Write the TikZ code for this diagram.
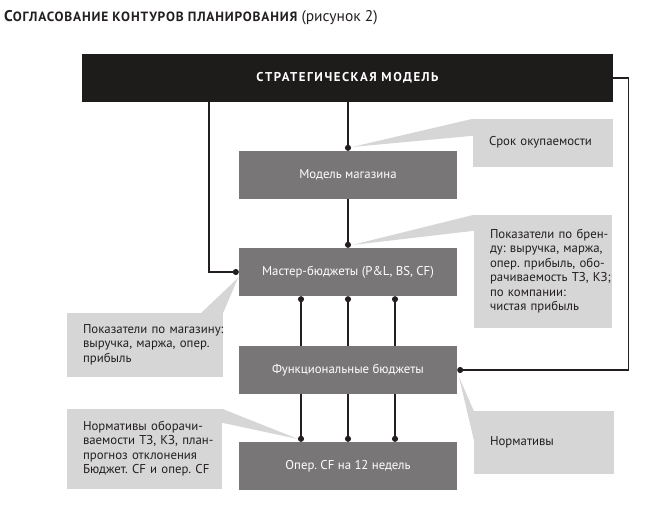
\documentclass[tikz,border=0pt]{standalone}
\usepackage{fontspec}
\setmainfont{PT Sans}
\newfontfamily\capsfont[LetterSpace=12]{PT Sans}
\newfontfamily\titlefont[LetterSpace=6]{PT Sans}
\usetikzlibrary{arrows.meta}
\frenchspacing

\definecolor{stratfill}{RGB}{30,27,27}
\definecolor{boxfill}{RGB}{120,118,118}
\definecolor{notefill}{RGB}{214,214,214}
\definecolor{ink}{RGB}{35,31,32}
\newcommand{\boxfont}{\fontsize{12.8}{14.5}\selectfont}
\newcommand{\notelines}[1]{\noindent\begin{tabular}{@{}l@{}}#1\end{tabular}}

\begin{document}
\begin{tikzpicture}[x=1pt,y=-1pt,
  block/.style={fill=boxfill,text=white,font=\boxfont,minimum width=218pt,minimum height=48pt,inner sep=0pt},
  note/.style={fill=notefill,text=ink,font=\boxfont,inner xsep=16pt,inner ysep=0pt},
  link/.style={draw=ink,line width=1.4pt},
  enddot/.style={-{Circle[length=6pt]}},
  startdot/.style={{Circle[length=6pt]}-}]
\useasboundingbox (0,0) rectangle (650,508);
\node (title) at (4,18) [anchor=west,inner sep=0pt,text=ink]
  {\fontsize{15.5}{16}\selectfont{\titlefont\bfseries С\fontsize{13.4}{14}\selectfont ОГЛАСОВАНИЕ КОНТУРОВ ПЛАНИРОВАНИЯ} (рисунок 2)};
\node (strat) at (347.5,78) [fill=stratfill,text=white,font=\boxfont\capsfont\bfseries,minimum width=531pt,minimum height=48pt] {СТРАТЕГИЧЕСКАЯ МОДЕЛЬ};
\node (model) at (348,175) [block] {Модель магазина};
\node (master) at (348,272) [block] {Мастер-бюджеты (P\&L, BS, CF)};
\node (func) at (348,370) [block] {Функциональные бюджеты};
\node (oper) at (348,466) [block] {Опер. CF на 12 недель};
% callouts
\node (srok) at (543,143) [note,text width=108pt,minimum height=48pt] {\notelines{Срок окупаемости}};
\node (brand) at (543,271.5) [note,text width=106pt,minimum height=113pt]
  {\notelines{Показатели по брен-\\ду: выручка, маржа,\\опер. прибыль, обо-\\рачиваемость ТЗ, КЗ;\\по компании:\\чистая прибыль}};
\node (shop) at (145,345) [note,text width=124pt,minimum height=64pt]
  {\notelines{Показатели по магазину:\\выручка, маржа, опер.\\прибыль}};
\node (norm) at (144.5,449) [note,text width=123pt,minimum height=80pt]
  {\notelines{Нормативы оборачи-\\ваемости ТЗ, КЗ, план-\\прогноз отклонения\\Бюджет. CF и опер. CF}};
\node (normfunc) at (544,442.5) [note,text width=108pt,minimum height=63pt] {\notelines{Нормативы}};
\fill[notefill] (352,147) -- (srok.north west) -- ([yshift=-17pt]srok.north west) -- cycle;
\fill[notefill] (352,245) -- (brand.north west) -- ([yshift=-16pt]brand.north west) -- cycle;
\fill[notefill] (238,278) -- (shop.north east) -- ([xshift=-22pt]shop.north east) -- cycle;
\fill[notefill] (298,439) -- (norm.north east) -- ([yshift=-14pt]norm.north east) -- cycle;
\fill[notefill] (459,377) -- (normfunc.north west) -- ([yshift=-29pt]normfunc.north west) -- cycle;
% connectors
\draw[link,enddot] (strat.south -| model.north) -- (model.north);
\draw[link,enddot] (model.south) -- (master.north);
\draw[link,enddot] ([xshift=127pt]strat.south west) |- (master.west);
\draw[link,enddot] (strat.east) -- ++(15,0) |- (func.east);
\foreach \dx in {-47,0,47} {
  \draw[link,startdot] ([xshift=\dx pt]master.south) -- ([xshift=\dx pt]func.north);
  \draw[link,enddot] ([xshift=\dx pt]func.south) -- ([xshift=\dx pt]oper.north);
}
\end{tikzpicture}
\end{document}
